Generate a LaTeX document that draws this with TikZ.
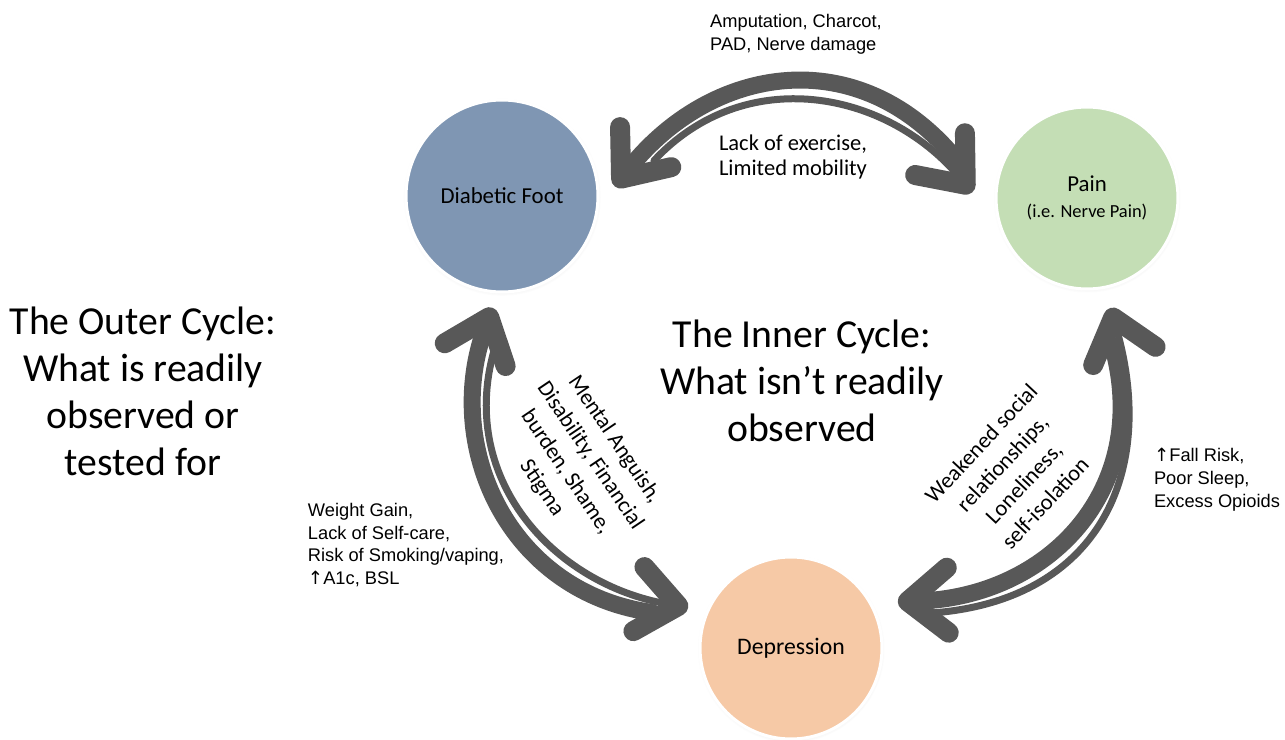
\documentclass[tikz,border=0pt]{standalone}
\usepackage{fontspec}
\setmainfont{Carlito}
\newfontfamily\arialfont{Liberation Sans}
\newfontfamily\symfont{DejaVu Sans}
\usetikzlibrary{arrows.meta}
\usetikzlibrary{shadows}
\definecolor{footblue}{RGB}{127,150,179}
\definecolor{paingreen}{RGB}{196,222,181}
\definecolor{deppeach}{RGB}{246,201,166}
\definecolor{arcgray}{RGB}{88,88,88}
\tikzset{
  issue/.style   = { circle, inner sep=0pt, outer sep=0pt, draw=white,
                     line width=0.06cm, text=black, align=center,
                     circular drop shadow={shadow scale=1.03, opacity=0.25,
                                           shadow xshift=0pt, shadow yshift=-0.02cm} },
  cycle/.style   = { align=center, font=\fontsize{22.6}{26.7}\selectfont },
  effect/.style  = { align=center, font=\fontsize{12.8}{16.6}\selectfont },
  marker/.style  = { align=left, font=\arialfont\fontsize{10.4}{13}\selectfont },
  chevron/.tip   = { Straight Barb[length=0.8cm, width=1.3cm, line width=0.4cm, round] },
  link/.style    = { draw=arcgray, line cap=round, -chevron },
  heavy/.style   = { link, line width=0.34cm },
  light/.style   = { link, line width=0.14cm },
}

\begin{document}
\begin{tikzpicture}[x=0.02cm, y=-0.02cm]
  \useasboundingbox (0,0) rectangle (1285,740);

  \node (foot) [issue, fill=footblue, minimum size=3.84cm] at (502,196)
        {\fontsize{13}{15}\selectfont Diabetic Foot};
  \node (pain) [issue, fill=paingreen, minimum size=3.64cm] at (1087,198)
        {\fontsize{13}{16.4}\selectfont Pain\\[3pt]\fontsize{10.5}{12}\selectfont (i.e. Nerve Pain)};
  \node (dep)  [issue, fill=deppeach, minimum size=3.64cm] at (791,648)
        {\fontsize{13.5}{15}\selectfont Depression};

  % foot <-> pain
  \draw [heavy, shorten <=1.26cm, shorten >=0.58cm]
        (pain.187) .. controls +(-137.8,-169) and +(113.3,-145) .. (foot.-8);
  \draw [light, shorten <=1.78cm, shorten >=0.88cm]
        (foot.-18) .. controls +(151.7,-162.6) and +(-114.1,-135.9) .. (pain.198);

  % foot <-> depression
  \draw [heavy, shorten <=1.06cm, shorten >=0.34cm]
        (dep.162) .. controls +(-197,-27.7) and +(-57.1,152.7) .. (foot.-92);
  \draw [light, shorten <=1.14cm, shorten >=0.4cm]
        (foot.-84) .. controls +(-56.7,185.7) and +(-154.9,-26.7) .. (dep.156);

  % pain <-> depression
  \draw [heavy, shorten <=1.18cm, shorten >=0.56cm]
        (pain.-84) .. controls +(56.2,201.3) and +(178,-5.3) .. (dep.30);
  \draw [light, shorten <=1.08cm, shorten >=0.43cm]
        (dep.20) .. controls +(223.6,-15.7) and +(53.6,183.8) .. (pain.-79);

  \node (damage)   [marker] at (796,34) {Amputation, Charcot,\\PAD, Nerve damage};
  \node (mobility) [effect, align=left, font=\fontsize{12.8}{14.7}\selectfont]
        at (793,157) {Lack of exercise,\\Limited mobility};
  \node (anguish)  [effect, rotate=-56] at (578,464)
        {Mental Anguish,\\Disability, Financial\\burden, Shame,\\Stigma};
  \node (social)   [effect, rotate=47] at (1013,473)
        {Weakened social\\relationships,\\Loneliness,\\self-isolation};
  \node (habits)   [marker] at (406,545)
        {Weight Gain,\\Lack of Self-care,\\Risk of Smoking/vaping,\\{\symfont ↑}A1c, BSL};
  \node (falls)    [marker] at (1217,480)
        {{\symfont ↑}Fall Risk,\\Poor Sleep,\\Excess Opioids};

  \node (outer) [cycle] at (143,391)
        {The Outer Cycle:\\What is readily\\observed or\\tested for};
  \node (inner) [cycle] at (802,381)
        {The Inner Cycle:\\What isn’t readily\\observed};
\end{tikzpicture}
\end{document}
